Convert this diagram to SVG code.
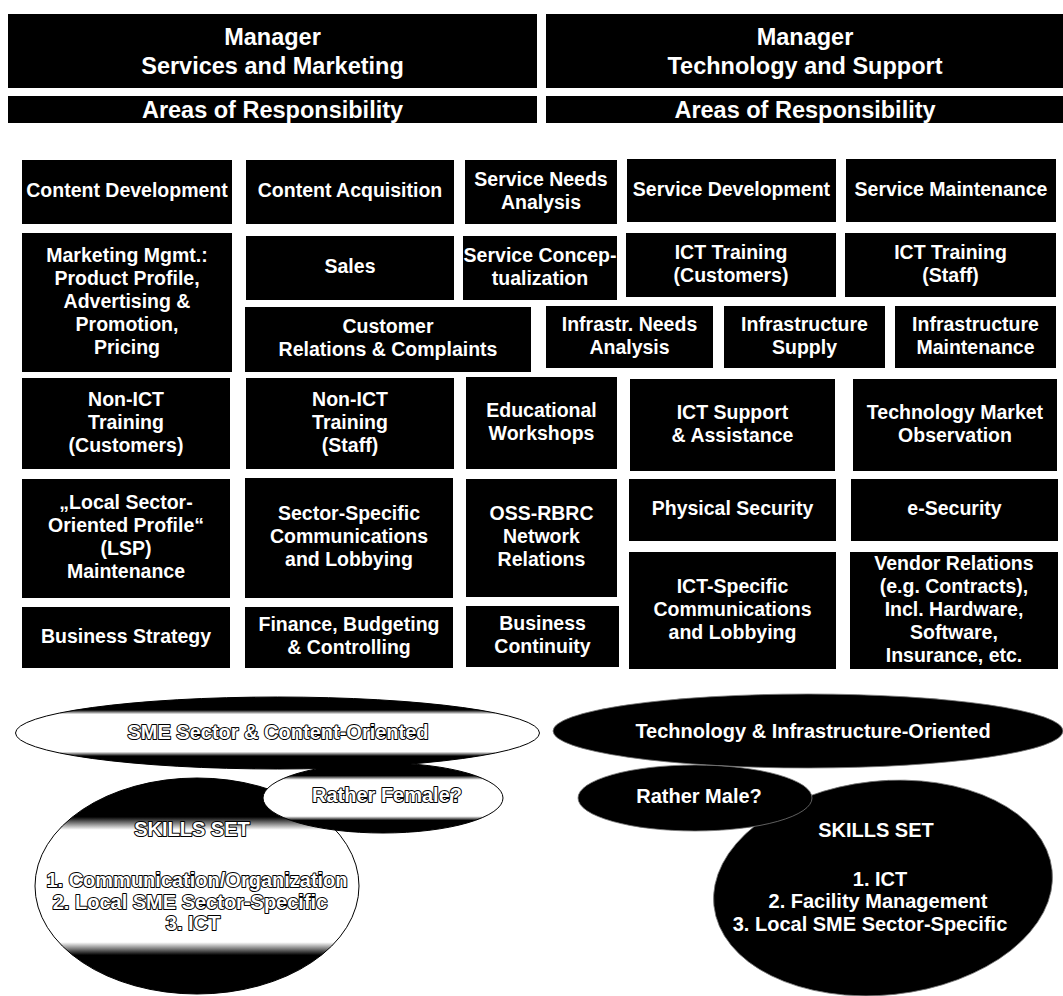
<svg xmlns="http://www.w3.org/2000/svg" width="1063" height="996" viewBox="0 0 1063 996">
  <style>
    .bg { fill: #fff; }
    .box { fill: #000; }
    .t { font-family: "Liberation Sans", Arial, sans-serif; font-weight: bold; font-size: 19.5px; fill: #fff; text-anchor: middle; }
    .h { font-size: 23.5px; }
    .e { font-size: 20px; }
    .ol { stroke: #000; stroke-width: 2; paint-order: stroke; stroke-linejoin: round; }
    .lite { fill: url(#band); stroke: #000; stroke-width: 1; }
    .dark { fill: #000; stroke: #777; stroke-width: 0.8; }
  </style>
  <defs>
    <!-- shaded bubbles: dark top and bottom bands, light middle -->
    <linearGradient id="band" x1="0" y1="0" x2="0" y2="1">
      <stop offset="0" stop-color="#000"/>
      <stop offset="0.18" stop-color="#000"/>
      <stop offset="0.24" stop-color="#fff"/>
      <stop offset="0.76" stop-color="#fff"/>
      <stop offset="0.82" stop-color="#000"/>
      <stop offset="1" stop-color="#000"/>
    </linearGradient>
  </defs>

  <rect class="bg" x="0" y="0" width="1063" height="996"/>

  <!-- headers -->
  <g id="manager-services">
    <rect class="box" x="8" y="14" width="529" height="74"/>
    <text class="t h"><tspan x="272.5" y="45">Manager</tspan><tspan x="272.5" y="74">Services and Marketing</tspan></text>
  </g>
  <g id="manager-technology">
    <rect class="box" x="546" y="14" width="517" height="74"/>
    <text class="t h"><tspan x="805" y="45">Manager</tspan><tspan x="805" y="74">Technology and Support</tspan></text>
  </g>
  <g id="areas-services">
    <rect class="box" x="8" y="96" width="529" height="27"/>
    <text class="t h" x="272.5" y="118">Areas of Responsibility</text>
  </g>
  <g id="areas-technology">
    <rect class="box" x="546" y="96" width="517" height="27"/>
    <text class="t h" x="805" y="118">Areas of Responsibility</text>
  </g>

  <!-- responsibility boxes -->
  <g id="content-development">
    <rect class="box" x="22" y="160" width="210" height="64"/>
    <text class="t ol" x="127" y="197">Content Development</text>
  </g>
  <g id="content-acquisition">
    <rect class="box" x="246" y="160" width="208" height="64"/>
    <text class="t ol" x="350" y="197">Content Acquisition</text>
  </g>
  <g id="service-needs-analysis">
    <rect class="box" x="465" y="160" width="152" height="64"/>
    <text class="t"><tspan x="541" y="185.5">Service Needs</tspan><tspan x="541" y="208.5">Analysis</tspan></text>
  </g>
  <g id="service-development">
    <rect class="box" x="627" y="159" width="209" height="63"/>
    <text class="t" x="731.5" y="195.5">Service Development</text>
  </g>
  <g id="service-maintenance">
    <rect class="box" x="846" y="159" width="210" height="63"/>
    <text class="t" x="951" y="195.5">Service Maintenance</text>
  </g>

  <g id="marketing-mgmt">
    <rect class="box" x="22" y="233" width="210" height="139"/>
    <text class="t ol"><tspan x="127" y="261.5">Marketing Mgmt.:</tspan><tspan x="127" y="284.5">Product Profile,</tspan><tspan x="127" y="307.5">Advertising &amp;</tspan><tspan x="127" y="330.5">Promotion,</tspan><tspan x="127" y="353.5">Pricing</tspan></text>
  </g>
  <g id="sales">
    <rect class="box" x="246" y="236" width="208" height="64"/>
    <text class="t ol" x="350" y="273">Sales</text>
  </g>
  <g id="service-conceptualization">
    <rect class="box" x="463" y="236" width="154" height="64"/>
    <text class="t"><tspan x="540" y="261.5">Service Concep-</tspan><tspan x="540" y="284.5">tualization</tspan></text>
  </g>
  <g id="ict-training-customers">
    <rect class="box" x="626" y="233" width="210" height="64"/>
    <text class="t"><tspan x="731" y="258.5">ICT Training</tspan><tspan x="731" y="281.5">(Customers)</tspan></text>
  </g>
  <g id="ict-training-staff">
    <rect class="box" x="845" y="233" width="211" height="64"/>
    <text class="t"><tspan x="950.5" y="258.5">ICT Training</tspan><tspan x="950.5" y="281.5">(Staff)</tspan></text>
  </g>

  <g id="customer-relations">
    <rect class="box" x="245" y="307" width="286" height="65"/>
    <text class="t ol"><tspan x="388" y="333">Customer</tspan><tspan x="388" y="356">Relations &amp; Complaints</tspan></text>
  </g>
  <g id="infrastructure-needs-analysis">
    <rect class="box" x="546" y="306" width="167" height="62"/>
    <text class="t"><tspan x="629.5" y="330.5">Infrastr. Needs</tspan><tspan x="629.5" y="353.5">Analysis</tspan></text>
  </g>
  <g id="infrastructure-supply">
    <rect class="box" x="724" y="306" width="161" height="62"/>
    <text class="t"><tspan x="804.5" y="330.5">Infrastructure</tspan><tspan x="804.5" y="353.5">Supply</tspan></text>
  </g>
  <g id="infrastructure-maintenance">
    <rect class="box" x="895" y="306" width="161" height="62"/>
    <text class="t"><tspan x="975.5" y="330.5">Infrastructure</tspan><tspan x="975.5" y="353.5">Maintenance</tspan></text>
  </g>

  <g id="non-ict-training-customers">
    <rect class="box" x="22" y="378" width="208" height="91"/>
    <text class="t ol"><tspan x="126" y="405.5">Non-ICT</tspan><tspan x="126" y="428.5">Training</tspan><tspan x="126" y="451.5">(Customers)</tspan></text>
  </g>
  <g id="non-ict-training-staff">
    <rect class="box" x="246" y="378" width="208" height="91"/>
    <text class="t ol"><tspan x="350" y="405.5">Non-ICT</tspan><tspan x="350" y="428.5">Training</tspan><tspan x="350" y="451.5">(Staff)</tspan></text>
  </g>
  <g id="educational-workshops">
    <rect class="box" x="466" y="377" width="151" height="92"/>
    <text class="t"><tspan x="541.5" y="416.5">Educational</tspan><tspan x="541.5" y="439.5">Workshops</tspan></text>
  </g>
  <g id="ict-support">
    <rect class="box" x="630" y="379" width="205" height="92"/>
    <text class="t"><tspan x="732.5" y="418.5">ICT Support</tspan><tspan x="732.5" y="441.5">&amp; Assistance</tspan></text>
  </g>
  <g id="technology-market-observation">
    <rect class="box" x="853" y="379" width="204" height="92"/>
    <text class="t"><tspan x="955" y="418.5">Technology Market</tspan><tspan x="955" y="441.5">Observation</tspan></text>
  </g>

  <g id="lsp-maintenance">
    <rect class="box" x="22" y="479" width="208" height="119"/>
    <text class="t ol"><tspan x="126" y="509">„Local Sector-</tspan><tspan x="126" y="532">Oriented Profile“</tspan><tspan x="126" y="555">(LSP)</tspan><tspan x="126" y="578">Maintenance</tspan></text>
  </g>
  <g id="sector-specific-communications">
    <rect class="box" x="245" y="478" width="208" height="120"/>
    <text class="t ol"><tspan x="349" y="520">Sector-Specific</tspan><tspan x="349" y="543">Communications</tspan><tspan x="349" y="566">and Lobbying</tspan></text>
  </g>
  <g id="oss-rbrc-network-relations">
    <rect class="box" x="466" y="479" width="151" height="118"/>
    <text class="t"><tspan x="541.5" y="520">OSS-RBRC</tspan><tspan x="541.5" y="543">Network</tspan><tspan x="541.5" y="566">Relations</tspan></text>
  </g>
  <g id="physical-security">
    <rect class="box" x="629" y="479" width="207" height="62"/>
    <text class="t" x="732.5" y="515">Physical Security</text>
  </g>
  <g id="e-security">
    <rect class="box" x="851" y="479" width="207" height="62"/>
    <text class="t" x="954.5" y="515">e-Security</text>
  </g>
  <g id="ict-specific-communications">
    <rect class="box" x="629" y="552" width="207" height="117"/>
    <text class="t"><tspan x="732.5" y="592.5">ICT-Specific</tspan><tspan x="732.5" y="615.5">Communications</tspan><tspan x="732.5" y="638.5">and Lobbying</tspan></text>
  </g>
  <g id="vendor-relations">
    <rect class="box" x="850" y="552" width="208" height="117"/>
    <text class="t"><tspan x="954" y="569.5">Vendor Relations</tspan><tspan x="954" y="592.5">(e.g. Contracts),</tspan><tspan x="954" y="615.5">Incl. Hardware,</tspan><tspan x="954" y="638.5">Software,</tspan><tspan x="954" y="661.5">Insurance, etc.</tspan></text>
  </g>

  <g id="business-strategy">
    <rect class="box" x="22" y="607" width="208" height="61"/>
    <text class="t ol" x="126" y="642.5">Business Strategy</text>
  </g>
  <g id="finance-budgeting">
    <rect class="box" x="245" y="607" width="208" height="61"/>
    <text class="t ol"><tspan x="349" y="631">Finance, Budgeting</tspan><tspan x="349" y="654">&amp; Controlling</tspan></text>
  </g>
  <g id="business-continuity">
    <rect class="box" x="466" y="606" width="153" height="61"/>
    <text class="t"><tspan x="542.5" y="630">Business</tspan><tspan x="542.5" y="653">Continuity</tspan></text>
  </g>

  <!-- profile bubbles, services side -->
  <g id="sme-oriented">
    <ellipse class="lite" cx="277.5" cy="733" rx="262" ry="36"/>
    <text class="t e ol" x="278" y="739">SME Sector &amp; Content-Oriented</text>
  </g>
  <g id="skills-services">
    <ellipse class="lite" cx="197" cy="886" rx="162" ry="108"/>
    <text class="t e ol"><tspan x="192" y="836">SKILLS SET</tspan><tspan x="197" y="887">1. Communication/Organization</tspan><tspan x="190" y="909">2. Local SME Sector-Specific</tspan><tspan x="193" y="930">3. ICT</tspan></text>
  </g>
  <g id="rather-female">
    <ellipse class="lite" cx="383" cy="798" rx="120" ry="35"/>
    <text class="t e ol" x="387" y="802">Rather Female?</text>
  </g>

  <!-- profile bubbles, technology side -->
  <g id="technology-oriented">
    <ellipse class="dark" cx="808" cy="731" rx="255" ry="37"/>
    <text class="t e ol" x="813" y="738">Technology &amp; Infrastructure-Oriented</text>
  </g>
  <g id="skills-technology">
    <ellipse class="dark" cx="883" cy="888" rx="170" ry="107" transform="rotate(-6 883 888)"/>
    <text class="t e"><tspan x="876" y="837">SKILLS SET</tspan><tspan x="880" y="886">1. ICT</tspan><tspan x="878" y="908">2. Facility Management</tspan><tspan x="870" y="931">3. Local SME Sector-Specific</tspan></text>
  </g>
  <g id="rather-male">
    <ellipse class="dark" cx="695" cy="798" rx="117" ry="33"/>
    <text class="t e ol" x="699" y="803">Rather Male?</text>
  </g>

  <g id="connectors"/>
</svg>
